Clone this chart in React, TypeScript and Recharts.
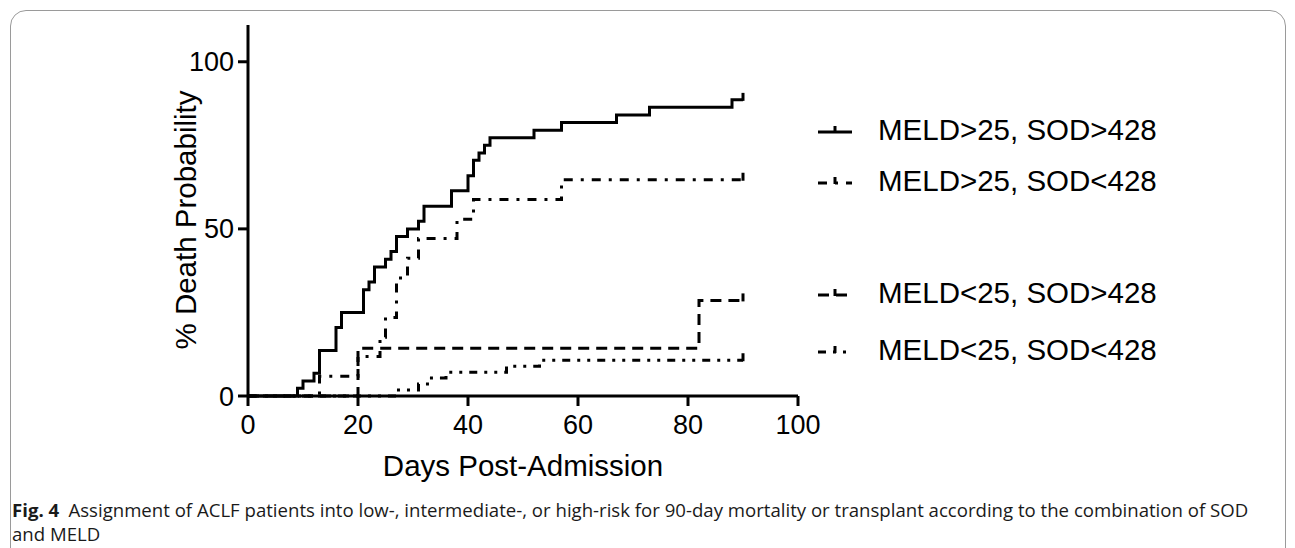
import { Legend, Line, LineChart, XAxis, YAxis } from "recharts";

// Kaplan-Meier style cumulative death probability (%) by day
const names = [
  "MELD>25, SOD>428",
  "MELD>25, SOD<428",
  "MELD<25, SOD>428",
  "MELD<25, SOD<428",
];

const hiHiDays = [0, 9, 10, 12, 13, 16, 17, 21, 22, 23, 25, 26, 27, 29, 31, 32, 37, 40, 41, 42, 43, 44, 52, 57, 67, 73, 88, 90];
const hiHiVals = [0, 2.3, 4.5, 6.8, 13.6, 20.5, 25, 31.8, 34.1, 38.6, 40.9, 43.2, 47.7, 50, 52.3, 56.8, 61.4, 65.9, 70.5, 72.7, 75, 77.3, 79.5, 81.8, 84.1, 86.4, 88.6, 88.6];

const hiLoDays = [0, 13, 20, 24, 25, 27, 29, 31, 38, 41, 57, 90];
const hiLoVals = [0, 5.9, 11.8, 17.6, 23.5, 35.3, 41.2, 47.1, 52.9, 58.8, 64.7, 64.7];

const loHiDays = [0, 20, 82, 90];
const loHiVals = [0, 14.3, 28.6, 28.6];

const loLoDays = [0, 27, 31, 33, 36, 47, 53, 90];
const loLoVals = [0, 1.8, 3.6, 5.4, 7.1, 8.9, 10.7, 10.7];

const xTicks = [0, 20, 40, 60, 80, 100];
const yTicks = [0, 50, 100];

const toRows = (days: number[], vals: number[]) => days.map((d, i) => ({ day: d, value: vals[i] }));

const series = [
  { name: names[0], data: toRows(hiHiDays, hiHiVals), dash: undefined },
  { name: names[1], data: toRows(hiLoDays, hiLoVals), dash: "9 8 3 8" },
  { name: names[2], data: toRows(loHiDays, loHiVals), dash: "11 7" },
  { name: names[3], data: toRows(loLoDays, loLoVals), dash: "8 7 3 7 3 7" },
];

const font = "'Liberation Sans', Arial, sans-serif";
const legendRows = [130, 181, 293, 350];

function censorDot(last: number) {
  return (p: any) =>
    p.index === last ? (
      <line key={"c" + p.index} x1={p.cx} y1={p.cy + 1} x2={p.cx} y2={p.cy - 7} stroke="#000" strokeWidth={3} />
    ) : (
      <g key={"c" + p.index} />
    );
}

function LegendBox() {
  return (
    <div style={{ position: "relative", width: 1295, height: 548 }}>
      {series.map((s, i) => (
        <div
          key={s.name}
          style={{ position: "absolute", left: 816, top: legendRows[i] - 16, height: 32, display: "flex", alignItems: "center" }}
        >
          <svg width={40} height={32}>
            <line x1={2} y1={18} x2={36} y2={18} stroke="#000" strokeWidth={3} strokeDasharray={s.dash} />
            <line x1={19} y1={19} x2={19} y2={12} stroke="#000" strokeWidth={3} />
          </svg>
          <span style={{ marginLeft: 22, fontFamily: font, fontSize: 29.5, color: "#000", whiteSpace: "nowrap" }}>{s.name}</span>
        </div>
      ))}
    </div>
  );
}

export default function App() {
  return (
    <div style={{ position: "absolute", left: 0, top: 0, width: 1295, height: 548, background: "#fff", overflow: "hidden" }}>
      <div
        style={{
          position: "absolute",
          left: 10,
          top: 10,
          width: 1274,
          height: 600,
          border: "1px solid #9a9a9a",
          borderRadius: 16,
        }}
      />
      <div style={{ position: "absolute", left: 0, top: 0 }}>
        <LineChart width={1295} height={548} margin={{ top: 25, left: 148, right: 497, bottom: 112 }}>
          <XAxis
            type="number"
            dataKey="day"
            domain={[0, 100]}
            ticks={xTicks}
            height={40}
            tickSize={10}
            tickMargin={9}
            axisLine={{ stroke: "#000", strokeWidth: 3 }}
            tickLine={{ stroke: "#000", strokeWidth: 3 }}
            tick={{ fill: "#000", fontSize: 27, fontFamily: font }}
            allowDuplicatedCategory={false}
            label={{
              value: "Days Post-Admission",
              content: () => (
                <text x={523} y={476} textAnchor="middle" fontFamily={font} fontSize={29.5} fill="#000">
                  Days Post-Admission
                </text>
              ),
            }}
          />
          <YAxis
            type="number"
            domain={[0, 111]}
            ticks={yTicks}
            width={100}
            tickSize={10}
            tickMargin={4}
            axisLine={{ stroke: "#000", strokeWidth: 3 }}
            tickLine={{ stroke: "#000", strokeWidth: 3 }}
            tick={{ fill: "#000", fontSize: 27, fontFamily: font }}
            label={{
              value: "% Death Probability",
              content: () => (
                <text
                  x={196}
                  y={220}
                  transform="rotate(-90 196 220)"
                  textAnchor="middle"
                  fontFamily={font}
                  fontSize={29.5}
                  fill="#000"
                >
                  % Death Probability
                </text>
              ),
            }}
          />
          <Legend
            layout="vertical"
            align="center"
            verticalAlign="middle"
            wrapperStyle={{ left: 0, top: 0, width: 1295, height: 548, pointerEvents: "none" }}
            content={() => <LegendBox />}
          />
          {series.map((s) => (
            <Line
              key={s.name}
              name={s.name}
              data={s.data}
              dataKey="value"
              type="stepAfter"
              stroke="#000"
              strokeWidth={3}
              strokeDasharray={s.dash}
              dot={censorDot(s.data.length - 1)}
              activeDot={false}
              isAnimationActive={false}
            />
          ))}
        </LineChart>
      </div>
      <div
        style={{
          position: "absolute",
          left: 12,
          top: 498,
          fontFamily: "'Open Sans', sans-serif",
          fontSize: 18.6,
          lineHeight: "24px",
          color: "#1a1a1a",
          whiteSpace: "nowrap",
        }}
      >
        <div>
          <b>Fig. 4</b>
          {"\u2002"}Assignment of ACLF patients into low-, intermediate-, or high-risk for 90-day mortality or transplant according to the combination of SOD
        </div>
        <div>and MELD</div>
      </div>
    </div>
  );
}
